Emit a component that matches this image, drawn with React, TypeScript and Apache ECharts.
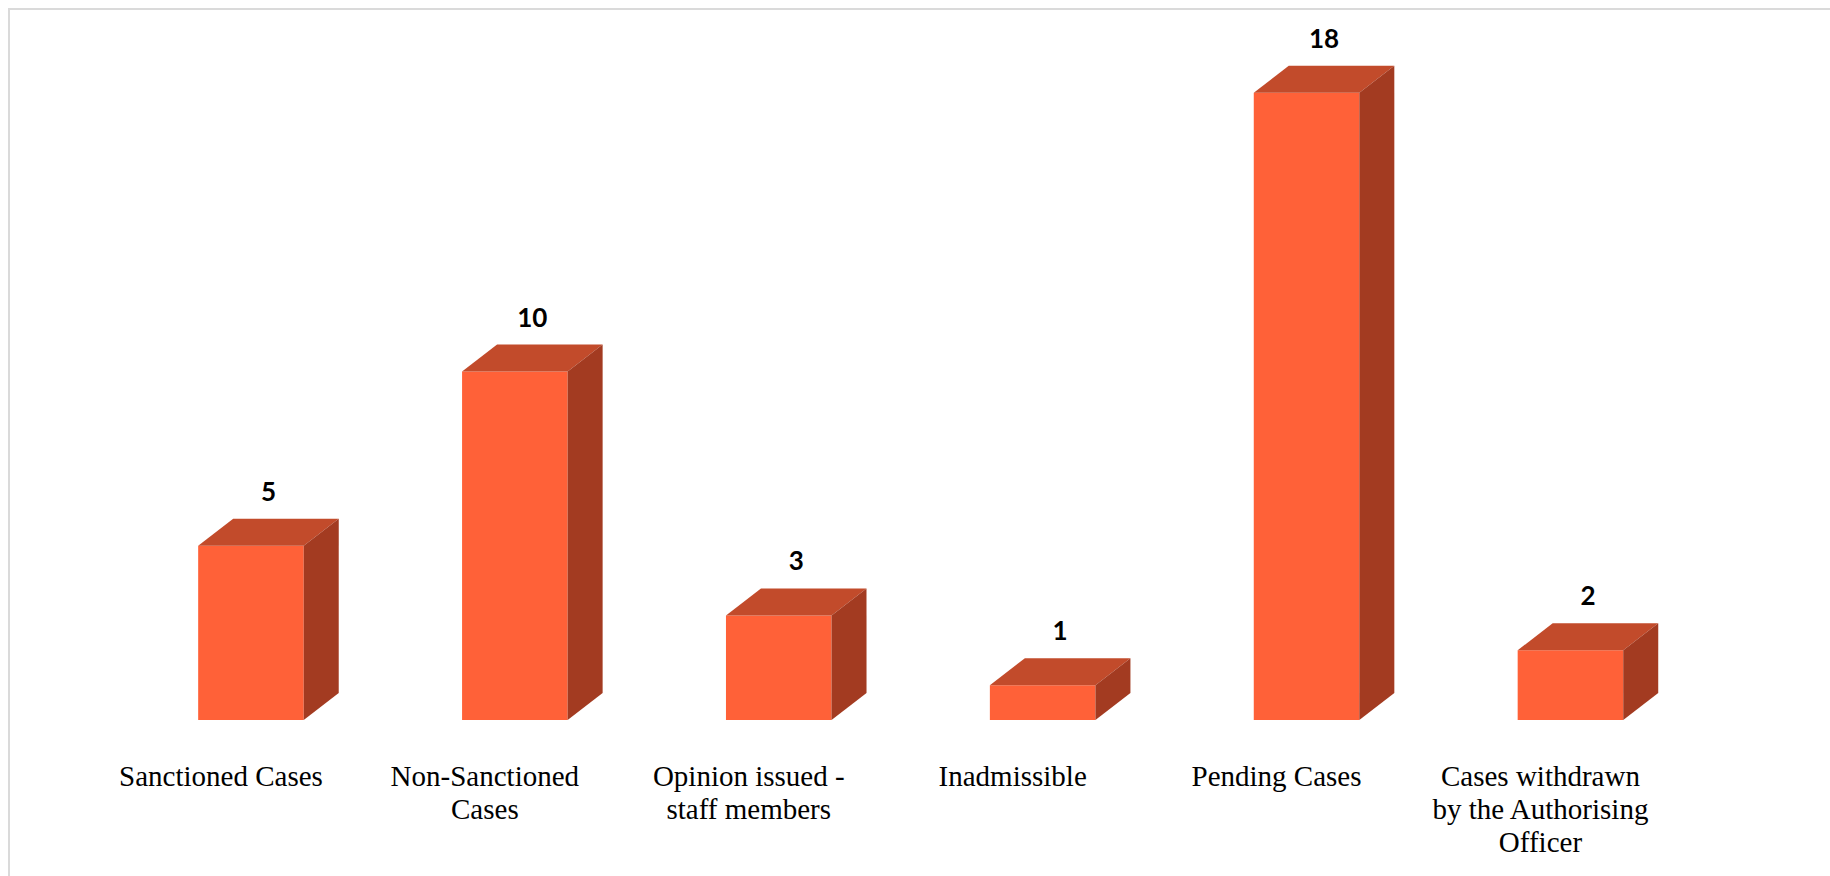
import React, { useEffect, useRef } from "react";
import * as echarts from "echarts";

const categories: string[] = [
  "Sanctioned Cases",
  "Non-Sanctioned\nCases",
  "Opinion issued -\nstaff members",
  "Inadmissible",
  "Pending Cases",
  "Cases withdrawn\nby the Authorising\nOfficer",
];
const values: number[] = [5, 10, 3, 1, 18, 2];

const FRONT = "#FF6138";
const TOP = "#C24B2B";
const SIDE = "#A33B21";

export default function App() {
  const ref = useRef<HTMLDivElement>(null);
  useEffect(() => {
    if (!ref.current) return;
    const chart = echarts.init(ref.current, undefined, { renderer: "svg" });
    const DX = 35;
    const DY = 27;
    chart.setOption({
      animation: false,
      backgroundColor: "#ffffff",
      grid: { left: 119, right: 127.6, top: 23, bottom: 156, containLabel: false },
      xAxis: {
        type: "category",
        data: categories,
        axisLine: { show: false },
        axisTick: { show: false },
        splitLine: { show: false },
        axisLabel: {
          interval: 0,
          margin: 39,
          color: "#000000",
          fontFamily: "Liberation Serif",
          fontSize: 29,
          lineHeight: 33,
          align: "center",
          padding: [0, 60, 0, 0],
        },
      },
      yAxis: {
        type: "value",
        min: 0,
        max: 20,
        show: false,
        splitLine: { show: false },
      },
      graphic: [
        {
          type: "rect",
          shape: { x: 9, y: 9, width: 1900, height: 1000 },
          style: { fill: "none", stroke: "#dadada", lineWidth: 2 },
          silent: true,
        },
      ],
      series: [
        {
          type: "custom",
          data: values.map((v, i) => [i, v]),
          encode: { x: 0, y: 1 },
          renderItem: (params: any, api: any) => {
            const idx = api.value(0);
            const v = api.value(1);
            const base = api.coord([idx, 0]);
            const top = api.coord([idx, v]);
            const w = api.size([1, 0])[0] * 0.4;
            const x0 = base[0] - w / 2;
            const x1 = base[0] + w / 2;
            const yb = base[1];
            const yt = top[1];
            return {
              type: "group",
              children: [
                {
                  type: "polygon",
                  shape: { points: [[x0, yt], [x1, yt], [x1, yb], [x0, yb]] },
                  style: { fill: FRONT },
                },
                {
                  type: "polygon",
                  shape: { points: [[x0, yt], [x0 + DX, yt - DY], [x1 + DX, yt - DY], [x1, yt]] },
                  style: { fill: TOP },
                },
                {
                  type: "polygon",
                  shape: { points: [[x1, yt], [x1 + DX, yt - DY], [x1 + DX, yb - DY], [x1, yb]] },
                  style: { fill: SIDE },
                },
                {
                  type: "text",
                  style: {
                    text: String(v),
                    x: (x0 + x1 + DX) / 2,
                    y: yt - DY - 28,
                    align: "center",
                    verticalAlign: "middle",
                    fontFamily: "Lato",
                    fontWeight: "bold",
                    fontSize: 26,
                    fill: "#000000",
                  },
                },
              ],
            };
          },
        },
      ],
    });
    return () => chart.dispose();
  }, []);
  return (
    <div style={{ position: "absolute", left: 0, top: 0, width: 1830, height: 876, overflow: "hidden" }}>
      <div ref={ref} style={{ width: 1830, height: 876 }} />
    </div>
  );
}
